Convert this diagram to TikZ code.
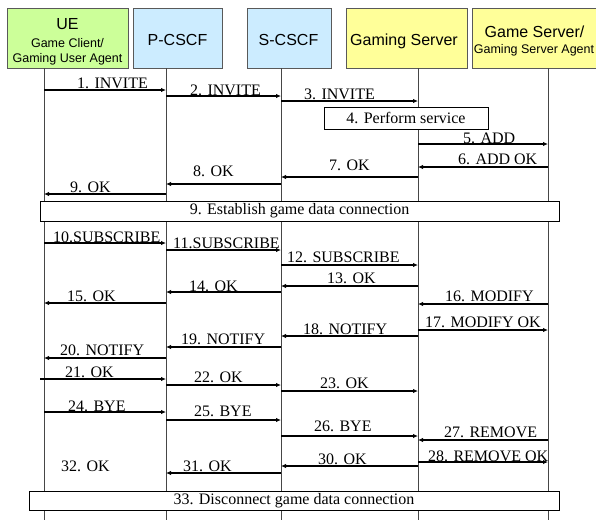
\documentclass[tikz,border=0pt]{standalone}
\usepackage{fontspec}
\setmainfont{Liberation Serif}
\newfontfamily\hdrfont{Liberation Sans}
\usetikzlibrary{arrows.meta}
\definecolor{uegreen}{RGB}{204,255,153}
\definecolor{cscfblue}{RGB}{204,236,255}
\definecolor{gsyellow}{RGB}{255,255,153}
\definecolor{lifegray}{RGB}{70,70,70}
\tikzset{
  hdrbox/.style={draw=lifegray!90, line width=0.8pt, inner sep=0pt},
  hdrbig/.style={font=\hdrfont\fontsize{16}{18}\selectfont, anchor=base, inner sep=0pt},
  hdrsmall/.style={font=\hdrfont\fontsize{12.5}{14}\selectfont, anchor=base, inner sep=0pt},
  life/.style={draw=lifegray, line width=0.9pt},
  msg/.style={draw=black, line width=1.3pt, -{Latex[length=5pt,width=4.5pt]}},
  lbl/.style={font=\fontsize{16}{18}\selectfont, anchor=base west, inner sep=0pt},
  actbox/.style={draw=black, fill=white, line width=0.8pt, inner sep=0pt, font=\fontsize{16}{18}\selectfont},
}
\newcommand\msgline[3]{\draw[msg] (#1 |- 0,#3) -- (#2 |- 0,#3);}
\begin{document}
\begin{tikzpicture}[x=1pt,y=-1pt]
\useasboundingbox (0,0) rectangle (596,520);
\clip (0,0) rectangle (596,520);
\fill[white] (0,0) rectangle (596,520);
% header boxes
\node[hdrbox, fill=uegreen, minimum width=121pt, minimum height=60pt] (ue) at (67.5,38) {};
\node[hdrbox, fill=cscfblue, minimum width=89pt, minimum height=60pt] (pc) at (177.5,38) {};
\node[hdrbox, fill=cscfblue, minimum width=84pt, minimum height=60pt] (sc) at (289,38) {};
\node[hdrbox, fill=gsyellow, minimum width=121pt, minimum height=60pt] (gs) at (406.5,38) {};
\node[hdrbox, fill=gsyellow, minimum width=130pt, minimum height=60pt] (ga) at (537,38) {};
% header texts
\node[hdrbig] (uet1) at (67.5,29) {UE};
\node[hdrsmall] (uet2) at (67.5,47) {Game Client/};
\node[hdrsmall] (uet3) at (67.5,62) {Gaming User Agent};
\node[hdrbig] (pct) at (177.5,45) {P-CSCF};
\node[hdrbig] (sct) at (288.5,45) {S-CSCF};
\node[hdrbig] (gst) at (404,45) {Gaming Server};
\node[hdrbig] (gat1) at (534.5,37) {Game Server/};
\node[hdrsmall] (gat2) at (534,53) {Gaming Server Agent};
% lifelines
\coordinate (ueL) at (44,68);
\coordinate (pcL) at (166,68);
\coordinate (scL) at (281,68);
\coordinate (gsL) at (418,68);
\coordinate (gaL) at (548,68);
\coordinate (ueB) at (44,520);
\coordinate (pcB) at (166,520);
\coordinate (scB) at (281,520);
\coordinate (gsB) at (418,520);
\coordinate (gaB) at (548,520);
\foreach \a/\b in {ueL/ueB,pcL/pcB,scL/scB,gsL/gsB,gaL/gaB} \draw[life] (\a) -- (\b);
% messages
\msgline{ueL}{pcL}{90}
\node[lbl] (l1) at (77,88) {1. INVITE};
\msgline{pcL}{scL}{96}
\node[lbl] (l2) at (190,95) {2. INVITE};
\msgline{scL}{gsL}{101}
\node[lbl] (l3) at (304,99) {3. INVITE};
\node[actbox, minimum width=164pt, minimum height=22pt] (b4) at (406,118) {4. Perform service};
\msgline{gsL}{gaL}{144}
\node[lbl] (l5) at (463,143) {5. ADD};
\msgline{gaL}{gsL}{167}
\node[lbl] (l6) at (458,164) {6. ADD OK};
\msgline{gsL}{scL}{177}
\node[lbl] (l7) at (329,170) {7. OK};
\msgline{scL}{pcL}{184}
\node[lbl] (l8) at (193,176) {8. OK};
\msgline{pcL}{ueL}{194}
\node[lbl] (l9) at (70,192) {9. OK};
\node[actbox, minimum width=519pt, minimum height=20pt] (b9) at (299.5,211) {9. Establish game data connection};
\msgline{ueL}{pcL}{243}
\node[lbl] (l10) at (53,242) {10.SUBSCRIBE};
\msgline{pcL}{scL}{250}
\node[lbl] (l11) at (173,248) {11.SUBSCRIBE};
\msgline{scL}{gsL}{265}
\node[lbl] (l12) at (287,262) {12. SUBSCRIBE};
\msgline{gsL}{scL}{286}
\node[lbl] (l13) at (327,283) {13. OK};
\msgline{scL}{pcL}{292}
\node[lbl] (l14) at (189,291) {14. OK};
\msgline{pcL}{ueL}{303}
\node[lbl] (l15) at (67,301) {15. OK};
\msgline{gaL}{gsL}{304}
\node[lbl] (l16) at (445,301) {16. MODIFY};
\msgline{gsL}{gaL}{330}
\node[lbl] (l17) at (425,327) {17. MODIFY OK};
\msgline{gsL}{scL}{336}
\node[lbl] (l18) at (303,334) {18. NOTIFY};
\msgline{scL}{pcL}{347}
\node[lbl] (l19) at (181,344) {19. NOTIFY};
\msgline{pcL}{ueL}{358}
\node[lbl] (l20) at (60,355) {20. NOTIFY};
\coordinate (m21) at (40,379);
\draw[msg] (m21) -- (pcL |- m21);
\node[lbl] (l21) at (65,377) {21. OK};
\msgline{pcL}{scL}{385}
\node[lbl] (l22) at (194,382) {22. OK};
\msgline{scL}{gsL}{391}
\node[lbl] (l23) at (320,388) {23. OK};
\msgline{ueL}{pcL}{412}
\node[lbl] (l24) at (68,411) {24. BYE};
\msgline{pcL}{scL}{420}
\node[lbl] (l25) at (194,416) {25. BYE};
\msgline{scL}{gsL}{436}
\node[lbl] (l26) at (314,431) {26. BYE};
\msgline{gaL}{gsL}{440}
\node[lbl] (l27) at (444,437) {27. REMOVE};
\msgline{gsL}{gaL}{462}
\node[lbl] (l28) at (428,461) {28. REMOVE OK};
\msgline{gsL}{scL}{466}
\node[lbl] (l30) at (318,464) {30. OK};
\msgline{scL}{pcL}{473}
\node[lbl] (l31) at (183,471) {31. OK};
\node[lbl] (l32) at (61,471) {32. OK};
\node[actbox, minimum width=530pt, minimum height=19pt] (b33) at (294,500.5) {33. Disconnect game data connection};
\end{tikzpicture}
\end{document}
